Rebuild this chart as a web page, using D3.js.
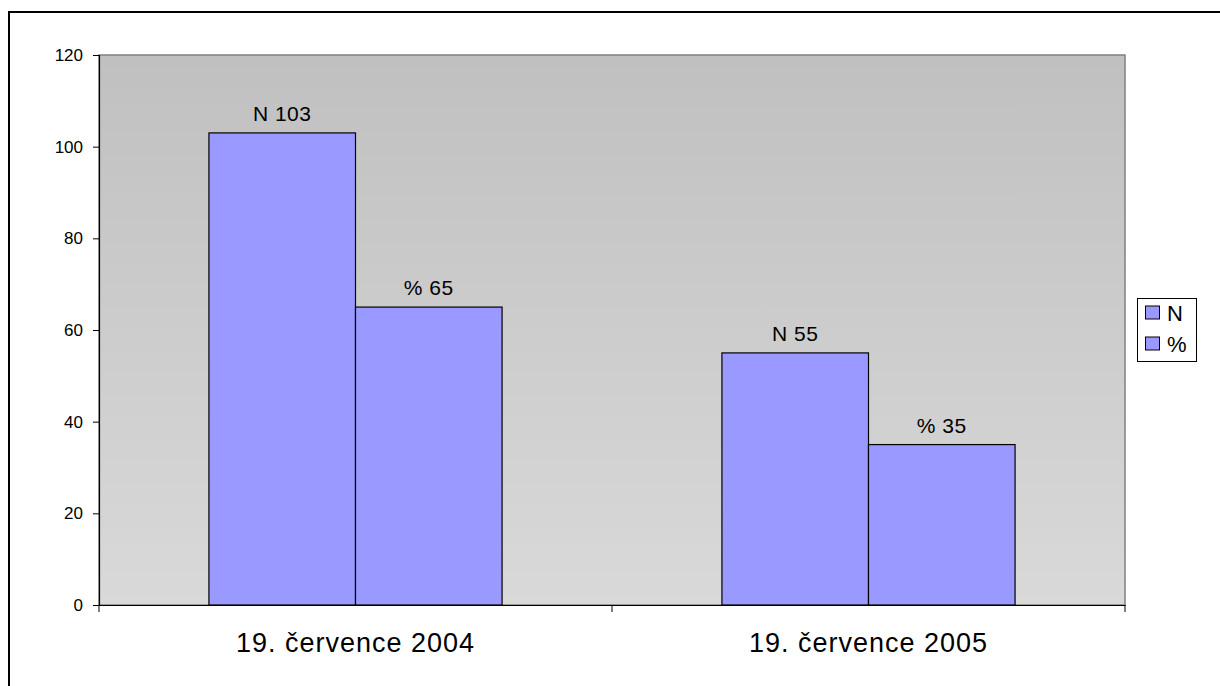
<!DOCTYPE html>
<html><head><meta charset="utf-8">
<script src="https://cdn.jsdelivr.net/npm/d3@7"></script>
<style>body{margin:0;background:#fff}svg{display:block;font-family:Arial,"Liberation Sans",sans-serif}</style>
</head><body><svg id="c" width="1220" height="686"></svg>
<script>
const categories = ["19. července 2004", "19. července 2005"];
const seriesNames = ["N", "%"];
const valuesN = [103, 55];
const valuesPct = [65, 35];
const yTicks = [0, 20, 40, 60, 80, 100, 120];

const svg = d3.select("#c");
const L = 99, R = 1125, T = 55, B = 605;
const FF = "Arial,'Liberation Sans',sans-serif";

// outer frame
svg.append("rect").attr("x", 9).attr("y", 12).attr("width", 1230).attr("height", 700)
  .attr("fill", "none").attr("stroke", "#000").attr("stroke-width", 2);

const defs = svg.append("defs");
const g = defs.append("linearGradient").attr("id", "bg").attr("x1", 0).attr("y1", 0).attr("x2", 0).attr("y2", 1);
g.append("stop").attr("offset", "0%").attr("stop-color", "#c0c0c0");
g.append("stop").attr("offset", "100%").attr("stop-color", "#d9d9d9");

svg.append("rect").attr("x", L).attr("y", T).attr("width", R - L).attr("height", B - T)
  .attr("fill", "url(#bg)").attr("stroke", "#808080").attr("stroke-width", 1.5);

const x0 = d3.scaleBand().domain(categories).range([L, R]).paddingInner(0).paddingOuter(0);
const x1 = d3.scaleBand().domain(seriesNames).range([0, x0.bandwidth()]).paddingInner(0).paddingOuter(0.75);
const y = d3.scaleLinear().domain([0, 120]).range([B, T]);

const data = [];
categories.forEach((c, i) => {
  data.push({cat: c, s: "N", v: valuesN[i]});
  data.push({cat: c, s: "%", v: valuesPct[i]});
});

svg.selectAll("rect.bar").data(data).enter().append("rect").attr("class", "bar")
  .attr("x", d => x0(d.cat) + x1(d.s))
  .attr("y", d => y(d.v))
  .attr("width", x1.bandwidth())
  .attr("height", d => y(0) - y(d.v))
  .attr("fill", "#9999ff").attr("stroke", "#000").attr("stroke-width", 1.2);

svg.selectAll("text.val").data(data).enter().append("text").attr("class", "val")
  .attr("x", d => x0(d.cat) + x1(d.s) + x1.bandwidth() / 2)
  .attr("y", d => y(d.v) - 12)
  .attr("text-anchor", "middle").attr("font-size", 21).attr("letter-spacing", 0.5).attr("font-family", FF).attr("fill", "#000")
  .text(d => d.s + " " + d.v);

// y axis
const ya = svg.append("g").attr("transform", `translate(${L},0)`)
  .call(d3.axisLeft(y).tickValues(yTicks).tickSize(6).tickPadding(10).tickFormat(d3.format("d")));
ya.select(".domain").attr("stroke", "#000").attr("stroke-width", 1.2);
ya.selectAll(".tick line").attr("stroke", "#000");
ya.selectAll("text").attr("font-size", 17).attr("font-family", FF).attr("fill", "#000");

// x axis
const xa = svg.append("g").attr("transform", `translate(0,${B})`)
  .call(d3.axisBottom(x0).tickSize(0).tickPadding(27.8));
xa.select(".domain").attr("stroke", "#000").attr("stroke-width", 1.2);
xa.selectAll("text").attr("font-size", 27).attr("letter-spacing", 1).attr("font-family", FF).attr("fill", "#000");
const bounds = [L, x0(categories[1]), R];
xa.selectAll("line.ct").data(bounds).enter().append("line").attr("class", "ct")
  .attr("x1", d => d).attr("x2", d => d).attr("y1", 0).attr("y2", 7).attr("stroke", "#000");

// legend
const lg = svg.append("g");
lg.append("rect").attr("x", 1137.5).attr("y", 298.5).attr("width", 59).attr("height", 63)
  .attr("fill", "#fff").attr("stroke", "#000").attr("stroke-width", 1);
seriesNames.forEach((s, i) => {
  const yy = 313 + i * 31;
  lg.append("rect").attr("x", 1145.5).attr("y", yy - 7).attr("width", 14).attr("height", 13)
    .attr("fill", "#9999ff").attr("stroke", "#000").attr("stroke-width", 1);
  lg.append("text").attr("x", 1167).attr("y", yy + 8).attr("font-size", 22).attr("font-family", FF).attr("fill", "#000").text(s);
});
</script></body></html>
